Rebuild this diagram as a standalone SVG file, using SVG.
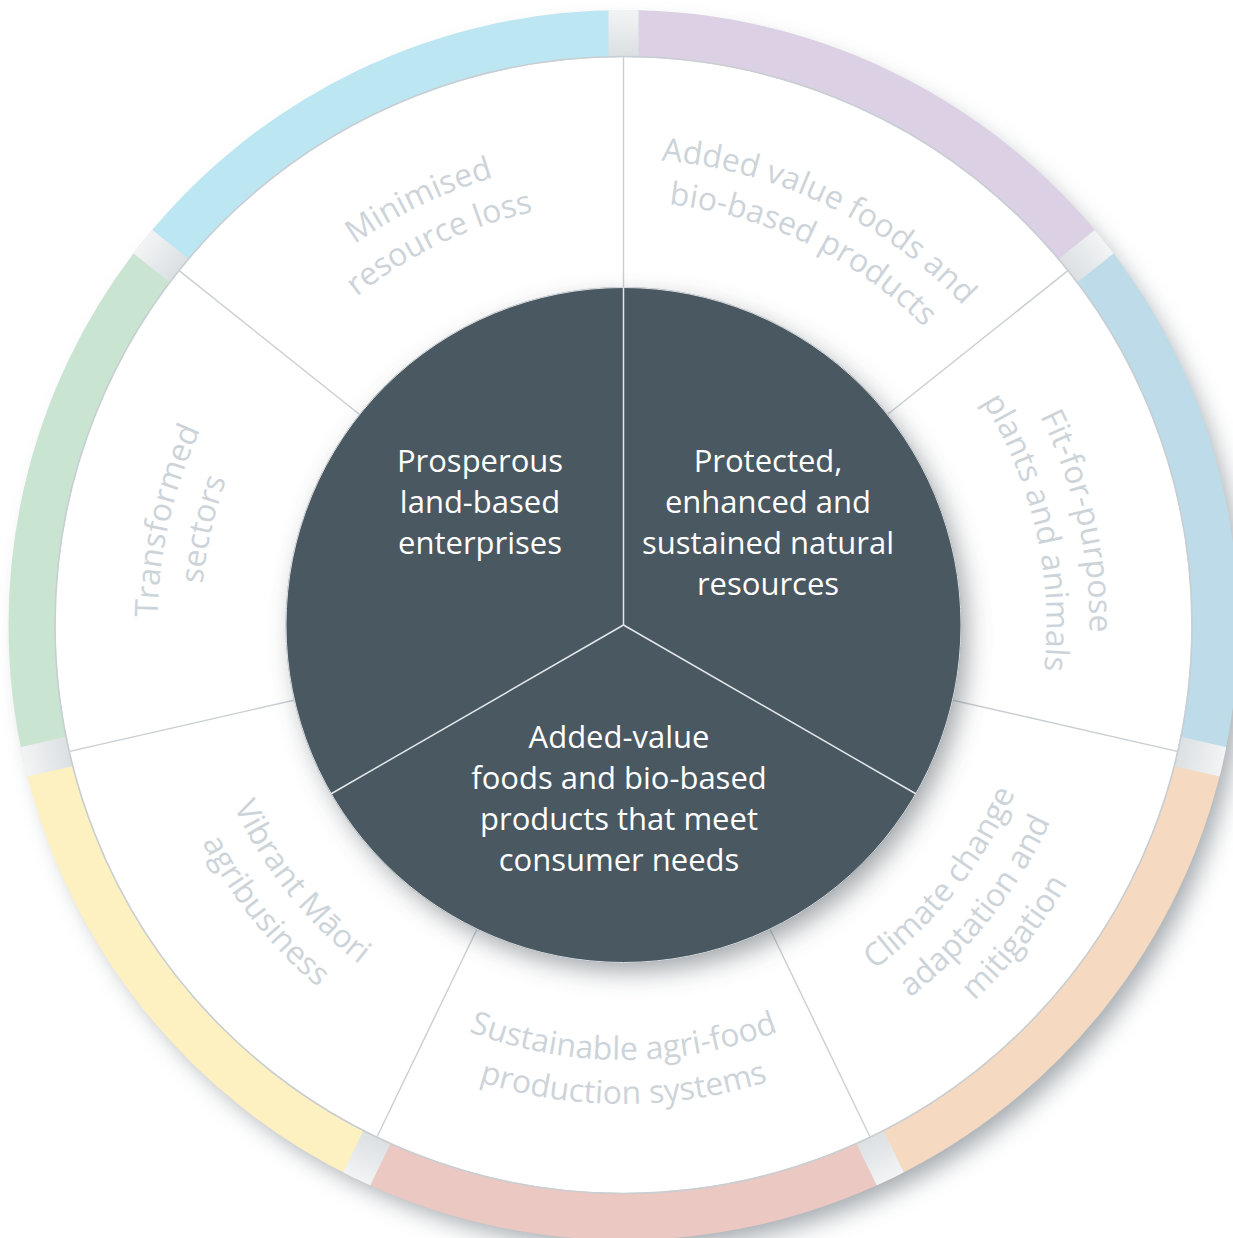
<svg xmlns="http://www.w3.org/2000/svg" width="1233" height="1238" viewBox="0 0 1233 1238">
<style>
.band{stroke:none}
.wseg{fill:#ffffff;stroke:none}
.lbl{font-family:"Open Sans","Liberation Sans",sans-serif;font-size:32px;fill:#cdd4d9;text-anchor:middle}
.inner{font-family:"Open Sans","Liberation Sans",sans-serif;font-size:31px;fill:#ffffff;text-anchor:middle}
.dark{fill:#4a5861;stroke:none}
.div{stroke:#c9cfd3;stroke-width:1.4;fill:none}
.ddiv{stroke:#e3e7e9;stroke-width:1.5;fill:none}
</style>
<defs>
<filter id="blurBig" x="-20%" y="-20%" width="140%" height="140%"><feGaussianBlur stdDeviation="12"/></filter>
<filter id="blurMid" x="-20%" y="-20%" width="140%" height="140%"><feGaussianBlur stdDeviation="13"/></filter>
<radialGradient id="gapGrad" gradientUnits="userSpaceOnUse" cx="623.5" cy="625" r="616">
<stop offset="0.92" stop-color="#dadfe2"/>
<stop offset="1" stop-color="#f3f4f5"/>
</radialGradient>
<clipPath id="bandClip"><path clip-rule="evenodd" d="M623.5,10 A615,615 0 1 1 623.49,10 Z M623.5,57 A568,568 0 1 0 623.51,57 Z"/></clipPath>
<path id="bandT" d="M356.66,70.90 A615,615 0 0 1 890.34,70.90 L869.08,115.05 A566,566 0 0 0 377.92,115.05 Z"/>
<path id="whiteT" d="M377.05,113.25 A568,568 0 0 1 869.95,113.25 L770.15,320.47 A338,338 0 0 0 476.85,320.47 Z"/>
<path id="arcT466" d="M356.21,243.28 A466,466 0 0 1 890.79,243.28"/>
<path id="arcT423" d="M380.87,278.50 A423,423 0 0 1 866.13,278.50"/>
<path id="arcB435" d="M373.99,981.33 A435,435 0 0 0 873.01,981.33"/>
<path id="arcB479" d="M348.76,1017.37 A479,479 0 0 0 898.24,1017.37"/>
<path id="arcB430" d="M376.86,977.24 A430,430 0 0 0 870.14,977.24"/>
<path id="arcB474" d="M351.62,1013.28 A474,474 0 0 0 895.38,1013.28"/>
<path id="arcB426" d="M379.16,973.96 A426,426 0 0 0 867.84,973.96"/>
<path id="arcB470" d="M353.92,1010.00 A470,470 0 0 0 893.08,1010.00"/>
<path id="arcB514" d="M328.68,1046.04 A514,514 0 0 0 918.32,1046.04"/>
<rect id="gapT" x="608.5" y="4" width="30" height="60"/>
<line id="divT" x1="623.5" y1="57" x2="623.5" y2="287"/>
</defs>

<rect width="1233" height="1238" fill="#ffffff"/>

<g id="outer-shadow">
<circle cx="634" cy="638" r="610" fill="#56626a" opacity="0.55" filter="url(#blurBig)"/>
</g>

<g id="seg-minimised">
<use href="#bandT" class="band" fill="#bde6f3" transform="rotate(-25.714 623.5 625)"/>
<use href="#whiteT" class="wseg" transform="rotate(-25.714 623.5 625)"/>
<text class="lbl" transform="rotate(-25.714 623.5 625)"><textPath href="#arcT466" startOffset="50%">Minimised</textPath></text>
<text class="lbl" transform="rotate(-25.714 623.5 625)"><textPath href="#arcT423" startOffset="50%">resource loss</textPath></text>
</g>

<g id="seg-added-value">
<use href="#bandT" class="band" fill="#dcd1e4" transform="rotate(25.714 623.5 625)"/>
<use href="#whiteT" class="wseg" transform="rotate(25.714 623.5 625)"/>
<text class="lbl" transform="rotate(25.714 623.5 625)"><textPath href="#arcT466" startOffset="50%">Added value foods and</textPath></text>
<text class="lbl" transform="rotate(25.714 623.5 625)"><textPath href="#arcT423" startOffset="50%">bio-based products</textPath></text>
</g>

<g id="seg-fit-for-purpose">
<use href="#bandT" class="band" fill="#bddbe8" transform="rotate(77.143 623.5 625)"/>
<use href="#whiteT" class="wseg" transform="rotate(77.143 623.5 625)"/>
<text class="lbl" transform="rotate(77.143 623.5 625)"><textPath href="#arcT466" startOffset="50%">Fit-for-purpose</textPath></text>
<text class="lbl" transform="rotate(77.143 623.5 625)"><textPath href="#arcT423" startOffset="50%">plants and animals</textPath></text>
</g>

<g id="seg-climate">
<use href="#bandT" class="band" fill="#f5d9c1" transform="rotate(128.571 623.5 625)"/>
<use href="#whiteT" class="wseg" transform="rotate(128.571 623.5 625)"/>
<text class="lbl" transform="rotate(-51.429 623.5 625)"><textPath href="#arcB426" startOffset="50%">Climate change</textPath></text>
<text class="lbl" transform="rotate(-51.429 623.5 625)"><textPath href="#arcB470" startOffset="50%">adaptation and</textPath></text>
<text class="lbl" transform="rotate(-51.429 623.5 625)"><textPath href="#arcB514" startOffset="50%">mitigation</textPath></text>
</g>

<g id="seg-sustainable">
<use href="#bandT" class="band" fill="#ebc8c2" transform="rotate(180 623.5 625)"/>
<use href="#whiteT" class="wseg" transform="rotate(180 623.5 625)"/>
<text class="lbl"><textPath href="#arcB435" startOffset="50%">Sustainable agri-food</textPath></text>
<text class="lbl"><textPath href="#arcB479" startOffset="50%">production systems</textPath></text>
</g>

<g id="seg-maori">
<use href="#bandT" class="band" fill="#fdf0c1" transform="rotate(231.429 623.5 625)"/>
<use href="#whiteT" class="wseg" transform="rotate(231.429 623.5 625)"/>
<text class="lbl" transform="rotate(51.429 623.5 625)"><textPath href="#arcB430" startOffset="50%">Vibrant Māori</textPath></text>
<text class="lbl" transform="rotate(51.429 623.5 625)"><textPath href="#arcB474" startOffset="50%">agribusiness</textPath></text>
</g>

<g id="seg-transformed">
<use href="#bandT" class="band" fill="#c9e5d1" transform="rotate(-77.143 623.5 625)"/>
<use href="#whiteT" class="wseg" transform="rotate(-77.143 623.5 625)"/>
<text class="lbl" transform="rotate(-77.143 623.5 625)"><textPath href="#arcT466" startOffset="50%">Transformed</textPath></text>
<text class="lbl" transform="rotate(-77.143 623.5 625)"><textPath href="#arcT423" startOffset="50%">sectors</textPath></text>
</g>

<g id="gaps" clip-path="url(#bandClip)" fill="url(#gapGrad)">
<use href="#gapT"/>
<use href="#gapT" transform="rotate(51.429 623.5 625)"/>
<use href="#gapT" transform="rotate(102.857 623.5 625)"/>
<use href="#gapT" transform="rotate(154.286 623.5 625)"/>
<use href="#gapT" transform="rotate(205.714 623.5 625)"/>
<use href="#gapT" transform="rotate(257.143 623.5 625)"/>
<use href="#gapT" transform="rotate(308.571 623.5 625)"/>
</g>

<g id="connectors">
<circle cx="623.5" cy="625" r="568.5" fill="none" stroke="#c8ced2" stroke-width="1.6"/>
<use href="#divT" class="div"/>
<use href="#divT" class="div" transform="rotate(51.429 623.5 625)"/>
<use href="#divT" class="div" transform="rotate(102.857 623.5 625)"/>
<use href="#divT" class="div" transform="rotate(154.286 623.5 625)"/>
<use href="#divT" class="div" transform="rotate(205.714 623.5 625)"/>
<use href="#divT" class="div" transform="rotate(257.143 623.5 625)"/>
<use href="#divT" class="div" transform="rotate(308.571 623.5 625)"/>
</g>

<g id="inner-shadow">
<circle cx="631" cy="635" r="336" fill="#3f4a51" opacity="0.5" filter="url(#blurMid)"/>
</g>

<g id="core-prosperous">
<path class="dark" d="M623.5,625 L623.5,287.5 A337.5,337.5 0 0 0 331.22,793.75 Z"/>
<text class="inner" x="480" y="472">Prosperous</text>
<text class="inner" x="480" y="513">land-based</text>
<text class="inner" x="480" y="554">enterprises</text>
</g>

<g id="core-protected">
<path class="dark" d="M623.5,625 L623.5,287.5 A337.5,337.5 0 0 1 915.78,793.75 Z"/>
<text class="inner" x="768" y="472">Protected,</text>
<text class="inner" x="768" y="513">enhanced and</text>
<text class="inner" x="768" y="554">sustained natural</text>
<text class="inner" x="768" y="595">resources</text>
</g>

<g id="core-added-value">
<path class="dark" d="M623.5,625 L331.22,793.75 A337.5,337.5 0 0 0 915.78,793.75 Z"/>
<text class="inner" x="619" y="748">Added-value</text>
<text class="inner" x="619" y="789">foods and bio-based</text>
<text class="inner" x="619" y="830">products that meet</text>
<text class="inner" x="619" y="871">consumer needs</text>
</g>

<g id="core-dividers">
<circle cx="623.5" cy="625" r="337.5" fill="none" stroke="#d9dee1" stroke-width="1"/>
<line class="ddiv" x1="623.5" y1="625" x2="623.5" y2="287.5"/>
<line class="ddiv" x1="623.5" y1="625" x2="331.22" y2="793.75"/>
<line class="ddiv" x1="623.5" y1="625" x2="915.78" y2="793.75"/>
</g>
</svg>
